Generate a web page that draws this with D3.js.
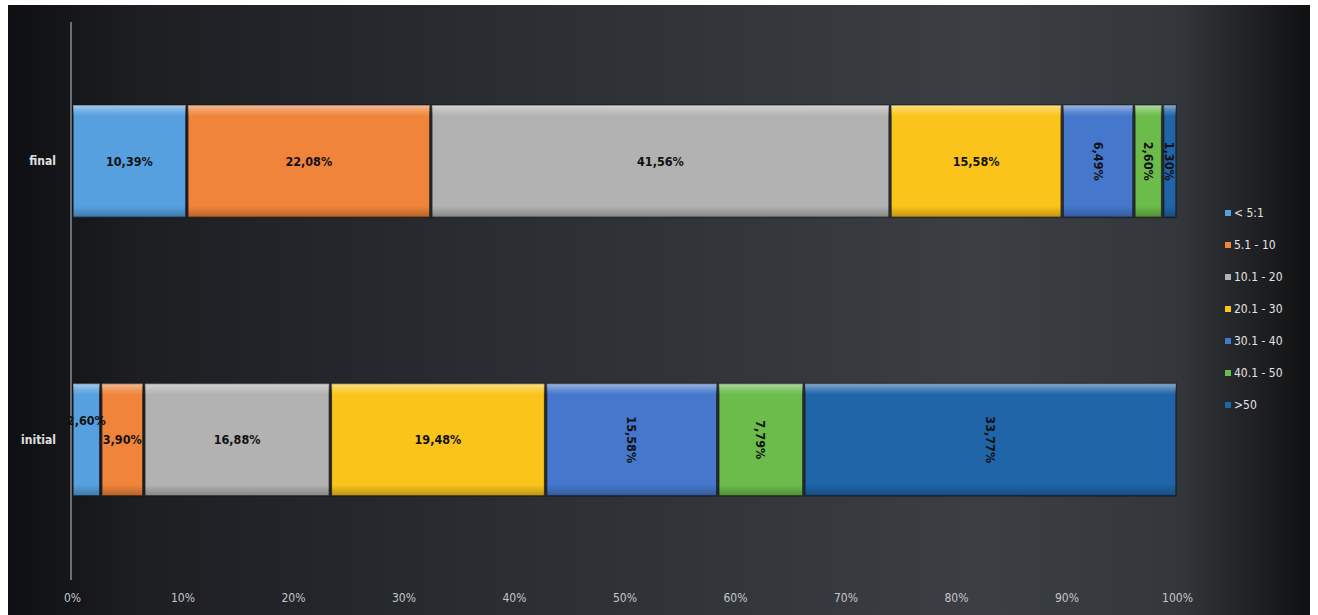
<!DOCTYPE html>
<html><head><meta charset="utf-8">
<script src="https://cdn.jsdelivr.net/npm/d3@7"></script>
<style>html,body{margin:0;padding:0;background:#fff;}svg{display:block;}</style>
</head><body>
<svg id="chart" width="1318" height="615"></svg>
<script>
const categories = ["final", "initial"];
const seriesNames = ["< 5:1", "5.1 - 10", "10.1 - 20", "20.1 - 30", "30.1 - 40", "40.1 - 50", ">50"];
const finalValues = [10.39, 22.08, 41.56, 15.58, 6.49, 2.60, 1.30];
const initialValues = [2.60, 3.90, 16.88, 19.48, 15.58, 7.79, 33.77];
const seriesColors = ["#56a0e0", "#f0843a", "#b2b2b2", "#fbc41a", "#4577cc", "#6cbc4c", "#1f65a8"];
const tickValues = [0, 10, 20, 30, 40, 50, 60, 70, 80, 90, 100];
const tickLabels = ["0%", "10%", "20%", "30%", "40%", "50%", "60%", "70%", "80%", "90%", "100%"];

const valuesByCat = {final: finalValues, initial: initialValues};
const svg = d3.select("#chart");
const defs = svg.append("defs");
const bg = defs.append("linearGradient").attr("id","bg").attr("x1","0").attr("x2","1").attr("y1","0").attr("y2","0");
[["0%","#0d0f12"],["10%","#1c1e22"],["40%","#2b2e33"],["75%","#3b3e43"],["90%","#33363a"],["100%","#0f1012"]]
  .forEach(([o,c])=>bg.append("stop").attr("offset",o).attr("stop-color",c));
const shade = defs.append("linearGradient").attr("id","shade").attr("x1","0").attr("x2","0").attr("y1","0").attr("y2","1");
[["0%","#ffffff",0.45],["6%","#ffffff",0.15],["10%","#ffffff",0.0],["90%","#000000",0.0],["100%","#000000",0.25]]
  .forEach(([o,c,a])=>shade.append("stop").attr("offset",o).attr("stop-color",c).attr("stop-opacity",a));

svg.append("rect").attr("x",8).attr("y",5).attr("width",1302).attr("height",610).attr("fill","url(#bg)");

const x = d3.scaleLinear().domain([0,100]).range([72,1177]);
const y = d3.scaleBand().domain(categories).range([49.4,551.6]).paddingInner(0.597).paddingOuter(0.2);

const font = "'Liberation Sans Narrow','Arial Narrow','DejaVu Sans Condensed',sans-serif";

// axis line
svg.append("line").attr("x1",71).attr("x2",71).attr("y1",22).attr("y2",580)
  .attr("stroke","#8a8c90").attr("stroke-width",1.5);

// x axis
const xAxis = d3.axisBottom(x).tickValues(tickValues).tickFormat((d,i)=>tickLabels[i]).tickSize(0).tickPadding(0);
const gx = svg.append("g").attr("transform","translate(0,598)").call(xAxis);
gx.select(".domain").remove();
gx.selectAll("text").attr("fill","#c4c6ca").attr("font-family",font).attr("font-size",12).attr("dy","0.35em");

// y axis labels
const yAxis = d3.axisLeft(y).tickSize(0).tickPadding(0);
const gy = svg.append("g").attr("transform","translate(56,0)").call(yAxis);
gy.select(".domain").remove();
gy.selectAll("text").attr("fill","#e0e0e0").attr("font-family",font).attr("font-size",12).attr("font-weight","bold");

// stacked data
const rows = categories.map(c => {
  const o = {cat:c};
  seriesNames.forEach((s,i)=> o[s] = valuesByCat[c][i]);
  return o;
});
const stack = d3.stack().keys(seriesNames)(rows);

const fmt = v => v.toFixed(2).replace(".", ",") + "%";

stack.forEach((layer, si) => {
  const g = svg.append("g");
  layer.forEach(d => {
    const x0 = x(d[0]), x1 = x(d[1]);
    const yy = y(d.data.cat), h = y.bandwidth();
    const w = Math.max(0, x1 - x0 - 2);
    g.append("rect").attr("x", x0+1).attr("y", yy).attr("width", w).attr("height", h)
      .attr("fill", seriesColors[si]).attr("stroke","#15171a").attr("stroke-opacity",0.7).attr("stroke-width",1.5);
    g.append("rect").attr("x", x0+1).attr("y", yy).attr("width", w).attr("height", h)
      .attr("fill","url(#shade)");
  });
});

// labels
stack.forEach((layer, si) => {
  layer.forEach((d, ci) => {
    const cat = d.data.cat;
    const x0 = x(d[0]), x1 = x(d[1]);
    const cx = (x0 + x1)/2, cy = y(cat) + y.bandwidth()/2;
    const t = svg.append("text").text(fmt(valuesByCat[cat][si]))
      .attr("font-family", font).attr("font-size", 12.5).attr("font-weight","bold")
      .attr("fill", "#111").attr("text-anchor","middle").attr("dominant-baseline","central");
    if (si >= 4) {
      t.attr("transform", `translate(${cx},${cy}) rotate(90)`);
    } else {
      const tw = t.node().getComputedTextLength();
      let dy = 0;
      const nextVal = si+1 < seriesNames.length ? valuesByCat[cat][si+1] : 100;
      if (tw > x1 - x0 && x(nextVal) - x(0) < tw + 10) dy = -19;
      t.attr("x", cx).attr("y", cy + dy);
    }
  });
});

// legend
const leg = svg.append("g").attr("transform","translate(1225,213)");
seriesNames.forEach((s,i)=>{
  const gi = leg.append("g").attr("transform",`translate(0,${i*32})`);
  gi.append("rect").attr("x",0).attr("y",-3).attr("width",6).attr("height",6).attr("fill",seriesColors[i]);
  gi.append("text").attr("x",9).attr("y",0).attr("dominant-baseline","central")
    .attr("fill","#e4e4e4").attr("font-family",font).attr("font-size",12).text(s);
});
</script>
</body></html>
